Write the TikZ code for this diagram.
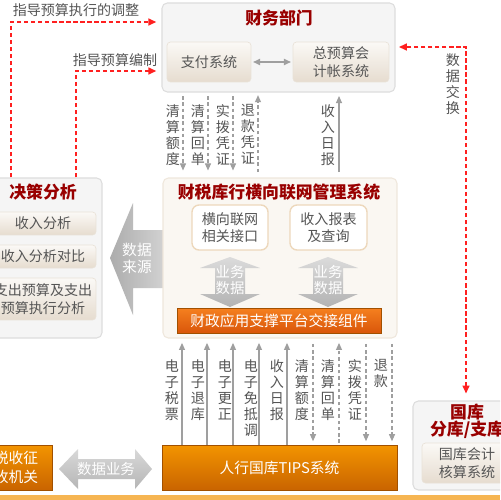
\documentclass[tikz,border=0pt]{standalone}
\usepackage{fontspec}
\setmainfont{Noto Sans CJK SC}
\usetikzlibrary{arrows.meta}

\definecolor{txtgray}{HTML}{555555}
\definecolor{titlered}{HTML}{990000}
\definecolor{boxfill}{HTML}{F5F5F5}
\definecolor{boxline}{HTML}{DDDDDD}
\definecolor{lwfill}{HTML}{FAF7F2}
\definecolor{lwline}{HTML}{EFE7DC}
\definecolor{subtop}{HTML}{FBF9F6}
\definecolor{subbot}{HTML}{E6DCCF}
\definecolor{subline}{HTML}{E9E2D8}
\definecolor{ifline}{HTML}{EDD8BC}
\definecolor{bartop}{HTML}{F5801F}
\definecolor{barbot}{HTML}{D9560A}
\definecolor{tipstop}{HTML}{F39400}
\definecolor{tipsbot}{HTML}{C96400}
\definecolor{reddash}{HTML}{FF2020}
\definecolor{strip}{HTML}{F6B552}

\tikzset{
	outerbox/.style={rounded corners=3pt, fill=boxfill, draw=boxline, line width=0.6pt, inner sep=0pt},
	subbox/.style={rounded corners=2pt, top color=subtop, bottom color=subbot, draw=subline, text=txtgray, align=center, inner sep=0pt, font=\fontsize{8}{10}\selectfont},
	ifbox/.style={rounded corners=4pt, fill=white, draw=ifline, line width=0.8pt, text=txtgray, align=center, inner sep=0pt, font=\fontsize{8}{9.5}\selectfont},
	orangebox/.style={top color=tipstop, bottom color=tipsbot, draw=tipsbot!80!black, line width=0.3pt, text=white, align=center, inner sep=0pt, font=\fontsize{8.4}{10.5}\selectfont},
	title/.style={text=titlered, align=center, inner sep=0pt, font=\fontsize{9.6}{9.8}\selectfont\bfseries},
	plain/.style={text=txtgray, inner sep=0pt, font=\fontsize{8}{9}\selectfont},
	vlabel/.style={text=txtgray, align=center, inner sep=0pt, anchor=north, font=\fontsize{8}{9.1}\selectfont},
	whitetxt/.style={text=white, align=center, inner sep=0pt, font=\fontsize{8.2}{9.6}\selectfont},
	tip/.style={-{Triangle[length=4pt,width=3.4pt]}},
	redline/.style={draw=reddash, line width=0.8pt, dash pattern=on 2.4pt off 1.6pt, -{Triangle[length=4.5pt,width=4pt]}},
	dotline/.style={draw=gray!75, line width=0.6pt, dash pattern=on 2pt off 1.6pt},
	solidline/.style={draw=gray!75, line width=0.6pt},
	bigarrow/.style={draw=none},
}

\begin{document}
\begin{tikzpicture}[x=0.02cm, y=-0.02cm]
	\useasboundingbox (0,0) rectangle (500,500);
	\clip (0,0) rectangle (500,500);
	\fill[white] (0,0) rectangle (500,500);
	\fill[strip] (0,495) rectangle (500,500);

	% finance department
	\node (caiwu)[outerbox, minimum width=4.66cm, minimum height=1.78cm] at (278.5,47.5) {};
	\node (caiwut)[title] at (279,18) {财务部门};
	\node (zhifu)[subbox, minimum width=1.68cm, minimum height=0.8cm] at (209,62) {支付系统};
	\node (zongys)[subbox, minimum width=1.92cm, minimum height=0.8cm] at (341,62) {总预算会\\计帐系统};
	\draw[solidline, line width=0.8pt, {Triangle[length=4pt,width=3.6pt]}-{Triangle[length=4pt,width=3.6pt]}, shorten <=1pt, shorten >=1pt] (zhifu) -- (zongys);

	% data source arrow
	\shade[bigarrow, left color=gray!65, right color=gray!35] (110,258) -- (133,203) -- (133,230) -- (165,230) -- (165,288) -- (133,288) -- (133,315) -- cycle;
	\node (laiyuan)[whitetxt, font=\fontsize{8.4}{9.6}\selectfont] at (137,258) {数据\\来源};

	% decision analysis
	\node (juece)[outerbox, minimum width=2.34cm, minimum height=3.2cm] at (43.5,258) {};
	\node (juecet)[title] at (43,192) {决策分析};
	\node (jc1)[subbox, minimum width=2.12cm, minimum height=0.46cm] at (43,223.5) {收入分析};
	\node (jc2)[subbox, minimum width=2.12cm, minimum height=0.46cm] at (43,256.5) {收入分析对比};
	\node (jc3)[subbox, minimum width=2.12cm, minimum height=0.84cm] at (43,299) {支出预算及支出\\预算执行分析};

	% interconnection system
	\node (lianwang)[outerbox, fill=lwfill, draw=lwline, minimum width=4.68cm, minimum height=3.2cm] at (280,258) {};
	\node (lianwangt)[title] at (279,192) {财税库行横向联网管理系统};
	\node (jiekou)[ifbox, minimum width=1.52cm, minimum height=0.9cm] at (230,227.5) {横向联网\\相关接口};
	\node (baobiao)[ifbox, minimum width=1.54cm, minimum height=0.9cm] at (328.5,227.5) {收入报表\\及查询};
	\foreach \cx/\nm in {230/ywa, 328/ywb} {
		\shade[bigarrow, top color=gray!28, bottom color=gray!60] (\cx,257) -- (\cx-30,268) -- (\cx-15,268) -- (\cx-15,294) -- (\cx-30,294) -- (\cx,307) -- (\cx+30,294) -- (\cx+15,294) -- (\cx+15,268) -- (\cx+30,268) -- cycle;
		\node (\nm)[whitetxt] at (\cx,280) {业务\\数据};
	}
	\node (zhicheng)[orangebox, top color=bartop, bottom color=barbot, minimum width=4.08cm, minimum height=0.5cm] at (279,320.5) {财政应用支撑平台交接组件};

	% TIPS and neighbours
	\node (tips)[orangebox, minimum width=4.70cm, minimum height=0.9cm] at (279.5,467.5) {人行国库TIPS系统};
	\node (zhengshou)[orangebox, minimum width=1.44cm, minimum height=0.9cm] at (16,467.5) {税收征\\收机关};
	\shade[bigarrow, top color=gray!30, bottom color=gray!58] (59,469) -- (78,449) -- (78,459) -- (135,459) -- (135,449) -- (152,469) -- (135,489) -- (135,479) -- (78,479) -- (78,489) -- cycle;
	\node (shujuyw)[whitetxt] at (106,469) {数据业务};

	% treasury branch
	\node (guoku)[outerbox, minimum width=2.14cm, minimum height=1.78cm] at (466.5,445.5) {};
	\node (guokut)[title] at (467,421.5) {国库\\分库/支库};
	\node (hesuan)[subbox, minimum width=1.80cm, minimum height=0.8cm] at (467,463) {国库会计\\核算系统};

	% red dashed guidance
	\coordinate (dA) at (11,22);
	\coordinate (dB) at (76,71);
	\coordinate (dC) at (466,47);
	\node (tiaozheng)[plain] at (76,10) {指导预算执行的调整};
	\node (bianzhi)[plain] at (115,60) {指导预算编制};
	\draw[redline, shorten >=3pt] (juece.north -| dA) -- (dA) -- (caiwu.west |- dA);
	\draw[redline, shorten >=3pt] (juece.north -| dB) -- (dB) -- (caiwu.west |- dB);
	\draw[redline, {Triangle[length=4.5pt,width=4pt]}-{Triangle[length=4.5pt,width=4pt]}, shorten >=2pt, shorten <=4pt] (guoku.north -| dC) -- (dC) -- (caiwu.east |- dC);
	\node (jiaohuan)[vlabel] at (453,53) {数\\据\\交\\换};

	% upper flows
	\node (u1)[vlabel] at (173,104) {清\\算\\额\\度};
	\node (u2)[vlabel] at (198,104) {清\\算\\回\\单};
	\node (u3)[vlabel] at (223,104) {实\\拨\\凭\\证};
	\node (u4)[vlabel] at (248,104) {退\\款\\凭\\证};
	\node (u5)[vlabel] at (328,104) {收\\入\\日\\报};
	\foreach \x in {183,208,233}
		\draw[dotline, tip, shorten <=2pt, shorten >=4pt] (caiwu.south -| \x,0) -- (lianwang.north -| \x,0);
	\draw[dotline, tip, shorten <=3pt, shorten >=1.5pt] (lianwang.north -| 258,0) -- (caiwu.south -| 258,0);
	\draw[solidline, tip, shorten <=3pt, shorten >=2pt] (lianwang.north -| 339,0) -- (caiwu.south -| 339,0);

	% lower flows
	\node (d1)[vlabel] at (172,359) {电\\子\\税\\票};
	\node (d2)[vlabel] at (198,359) {电\\子\\退\\库};
	\node (d3)[vlabel] at (225,359) {电\\子\\更\\正};
	\node (d4)[vlabel] at (251,359) {电\\子\\免\\抵\\调};
	\node (d5)[vlabel] at (277,359) {收\\入\\日\\报};
	\node (d6)[vlabel] at (302,359) {清\\算\\额\\度};
	\node (d7)[vlabel] at (328,359) {清\\算\\回\\单};
	\node (d8)[vlabel] at (355,359) {实\\拨\\凭\\证};
	\node (d9)[vlabel] at (381,359) {退\\款};
	\foreach \x in {182,207,233,259,287}
		\draw[solidline, tip, shorten >=2.5pt] (tips.north -| \x,0) -- (lianwang.south -| \x,0);
	\draw[dotline, tip, shorten <=1pt, shorten >=2.5pt] (tips.north -| 339,0) -- (lianwang.south -| 339,0);
	\foreach \x in {313,366,392}
		\draw[dotline, tip, shorten <=3pt, shorten >=2pt] (lianwang.south -| \x,0) -- (tips.north -| \x,0);
\end{tikzpicture}
\end{document}
